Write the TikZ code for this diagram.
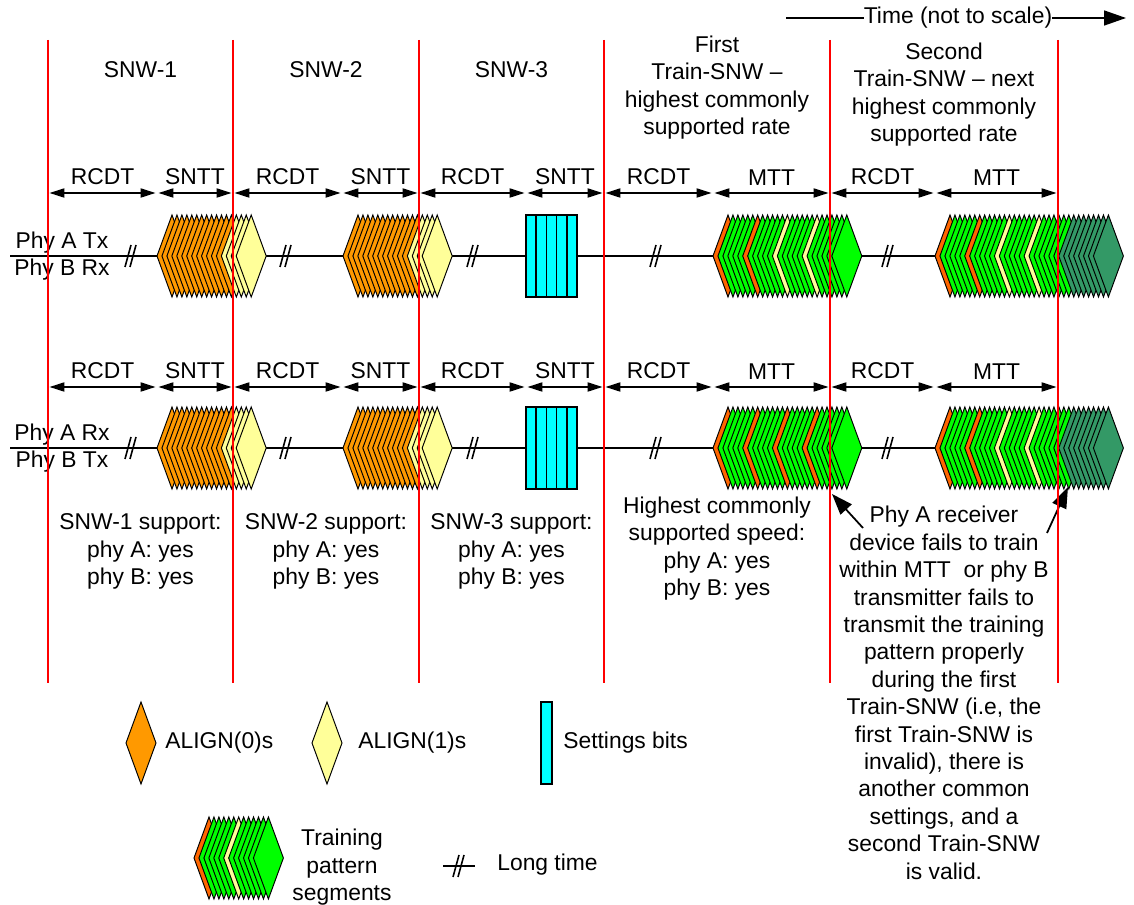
\documentclass[tikz,border=0pt]{standalone}
\usepackage{fontspec}
\setmainfont{Liberation Sans}
\usetikzlibrary{arrows.meta}

\definecolor{orng}{HTML}{FF9900}
\definecolor{yell}{HTML}{FFFF99}
\definecolor{cyanbit}{HTML}{00FFFF}
\definecolor{grn}{HTML}{00FF00}
\definecolor{trog}{HTML}{FF6600}
\definecolor{dkg}{HTML}{339966}

% fill lists of the stacked segments
\newcommand{\snttlist}{orng,orng,orng,orng,orng,orng,orng,orng,orng,orng,orng,orng,orng,yell,yell,yell,yell}
\newcommand{\mttlist}{trog,grn,grn,grn,grn,grn,trog,grn,grn,grn,grn,grn,yell,grn,grn,grn,grn,grn,yell,grn,grn,grn,grn,grn,grn}
\newcommand{\mttlistb}{trog,grn,grn,grn,grn,grn,trog,grn,grn,grn,grn,grn,trog,grn,grn,grn,grn,grn,trog,grn,grn,grn,grn,grn,grn}
\newcommand{\mttlistc}{trog,grn,grn,grn,grn,grn,trog,grn,grn,grn,grn,grn,yell,grn,grn,grn,grn,grn,yell,grn,grn,grn,grn,grn,grn,dkg,dkg,dkg,dkg,dkg,dkg,dkg,dkg}
\newcommand{\leglist}{trog,grn,grn,grn,grn,grn,yell,grn,grn,grn,grn,grn,grn}

\tikzset{
  tx/.style={font=\fontsize{13}{15.6}\selectfont, inner sep=0pt, align=center},
  redline/.style={red, line width=1pt},
  signal/.style={line width=0.9pt},
  seg/.style={line width=0.55pt},
  bitcell/.style={line width=0.9pt, fill=cyanbit},
  brk/.style={line width=0.9pt},
  dimarrow/.style={line width=1.1pt, {Triangle[length=0.3cm,width=0.18cm]}-{Triangle[length=0.3cm,width=0.18cm]}, shorten <=0.8pt, shorten >=0.8pt},
  callout/.style={line width=1pt, -{Triangle[length=0.42cm,width=0.3cm]}},
  longtime/.pic={\draw[brk] (-6,11) -- (0,-11); \draw[brk] (-1,11) -- (5,-11);}
}

% stacked diamonds: first centre x, centre y, fill list
\newcommand{\segs}[3]{%
  \foreach \fc [count=\i from 0] in #3
    \draw[seg, fill=\fc] ({#1+4.95*\i-15},#2) -- ++(15,-41) -- ++(15,41) -- ++(-15,41) -- cycle;%
}
% settings bits: left x, centre y
\newcommand{\bits}[2]{%
  \foreach \k in {0,...,4}
    \draw[bitcell] ({#1+10.2*\k},#2-41) rectangle ++(10.2,82);%
}
% interval arrows of one row: y, name prefix
\newcommand{\dims}[2]{%
  \foreach \xa/\xb/\lab [count=\k] in {48/157/RCDT,157/233/SNTT,233/342/RCDT,342/419/SNTT,419/526/RCDT,526/604/SNTT,604/713/RCDT,713/830/MTT,830/935/RCDT,935/1058/MTT} {
    \coordinate (#2\k a) at (\xa,#1);
    \coordinate (#2\k b) at (\xb,#1);
    \draw[dimarrow] (#2\k a) -- node[tx, above=4pt] (#2\k l) {\lab} (#2\k b);
  }%
}

\begin{document}
\begin{tikzpicture}[x=0.02cm, y=-0.02cm]
    \useasboundingbox (0,0) rectangle (1134,905);

    % time axis
    \node[tx] (time) at (958,18) {Time (not to scale)};
    \coordinate (timea) at (786,18);
    \coordinate (timeb) at (1126,18);
    \draw[signal] (timea) -- (time.west);
    \draw[signal, -{Triangle[length=0.44cm,width=0.3cm]}] (time.east) -- (timeb);

    % window titles
    \node[tx] (snw1) at (140.5,70) {SNW-1};
    \node[tx] (snw2) at (326,70) {SNW-2};
    \node[tx] (snw3) at (511.5,70) {SNW-3};
    \node[tx, anchor=north] (train1) at (717,35.5) {First\\Train-SNW --\\highest commonly\\supported rate};
    \node[tx, anchor=north] (train2) at (944,42.5) {Second\\Train-SNW -- next\\highest commonly\\supported rate};

    % Phy A Tx / Phy B Rx
    \draw[signal] (10,256) -- (935,256);
    \node[tx, anchor=base] (atx) at (62,249) {Phy A Tx};
    \node[tx, anchor=base] (brx) at (62,276) {Phy B Rx};
    \foreach \x in {131,286,473,656,888} \pic at (\x,256) {longtime};
    \segs{172}{256}{\snttlist}
    \segs{358}{256}{\snttlist}
    \bits{526}{256}
    \segs{728}{256}{\mttlist}
    \segs{950}{256}{\mttlistc}
    \dims{193}{ra}

    % Phy A Rx / Phy B Tx
    \draw[signal] (10,448) -- (935,448);
    \node[tx, anchor=base] (arx) at (62,441) {Phy A Rx};
    \node[tx, anchor=base] (btx) at (62,468) {Phy B Tx};
    \foreach \x in {131,286,473,656,888} \pic at (\x,448) {longtime};
    \segs{172}{448}{\snttlist}
    \segs{358}{448}{\snttlist}
    \bits{526}{448}
    \segs{728}{448}{\mttlistb}
    \segs{950}{448}{\mttlistc}
    \dims{387}{rb}

    % outcome of each window
    \node[tx, anchor=north] (sup1) at (140.5,513.5) {SNW-1 support:\\phy A: yes\\phy B: yes};
    \node[tx, anchor=north] (sup2) at (326,513.5) {SNW-2 support:\\phy A: yes\\phy B: yes};
    \node[tx, anchor=north] (sup3) at (511.5,513.5) {SNW-3 support:\\phy A: yes\\phy B: yes};
    \node[tx, anchor=north] (suphi) at (717,496.5) {Highest commonly\\supported speed:\\phy A: yes\\phy B: yes};
    \node[tx, anchor=north] (note) at (944,506) {Phy A receiver\\device fails to train\\within MTT~ or phy B\\transmitter fails to\\transmit the training\\pattern properly\\during the first\\Train-SNW (i.e, the\\first Train-SNW is\\invalid), there is\\another common\\settings, and a\\second Train-SNW\\is valid.};
    \coordinate (tipa) at (832,494);
    \coordinate (taila) at (863,528);
    \draw[callout] (taila) -- (tipa);
    \coordinate (tipb) at (1068,487);
    \coordinate (tailb) at (1047,533);
    \draw[callout] (tailb) -- (tipb);

    % legend
    \segs{141}{743}{{orng}}
    \node[tx, anchor=west] (lzero) at (165,743) {ALIGN(0)s};
    \segs{327}{743}{{yell}}
    \node[tx, anchor=west] (lone) at (358,743) {ALIGN(1)s};
    \draw[bitcell] (541,702) rectangle (552,784);
    \node[tx, anchor=west] (lbits) at (563,743) {Settings bits};
    \segs{209}{858}{\leglist}
    \node[tx, anchor=north] (ltrain) at (342,829) {Training\\pattern\\segments};
    \draw[signal] (443,866) -- (475,866);
    \pic at (459,866) {longtime};
    \node[tx, anchor=west] (llong) at (497,865) {Long time};

    % window boundaries
    \foreach \x in {48,233,419,604,830,1058} \draw[redline] (\x,40) -- (\x,683);
\end{tikzpicture}
\end{document}
